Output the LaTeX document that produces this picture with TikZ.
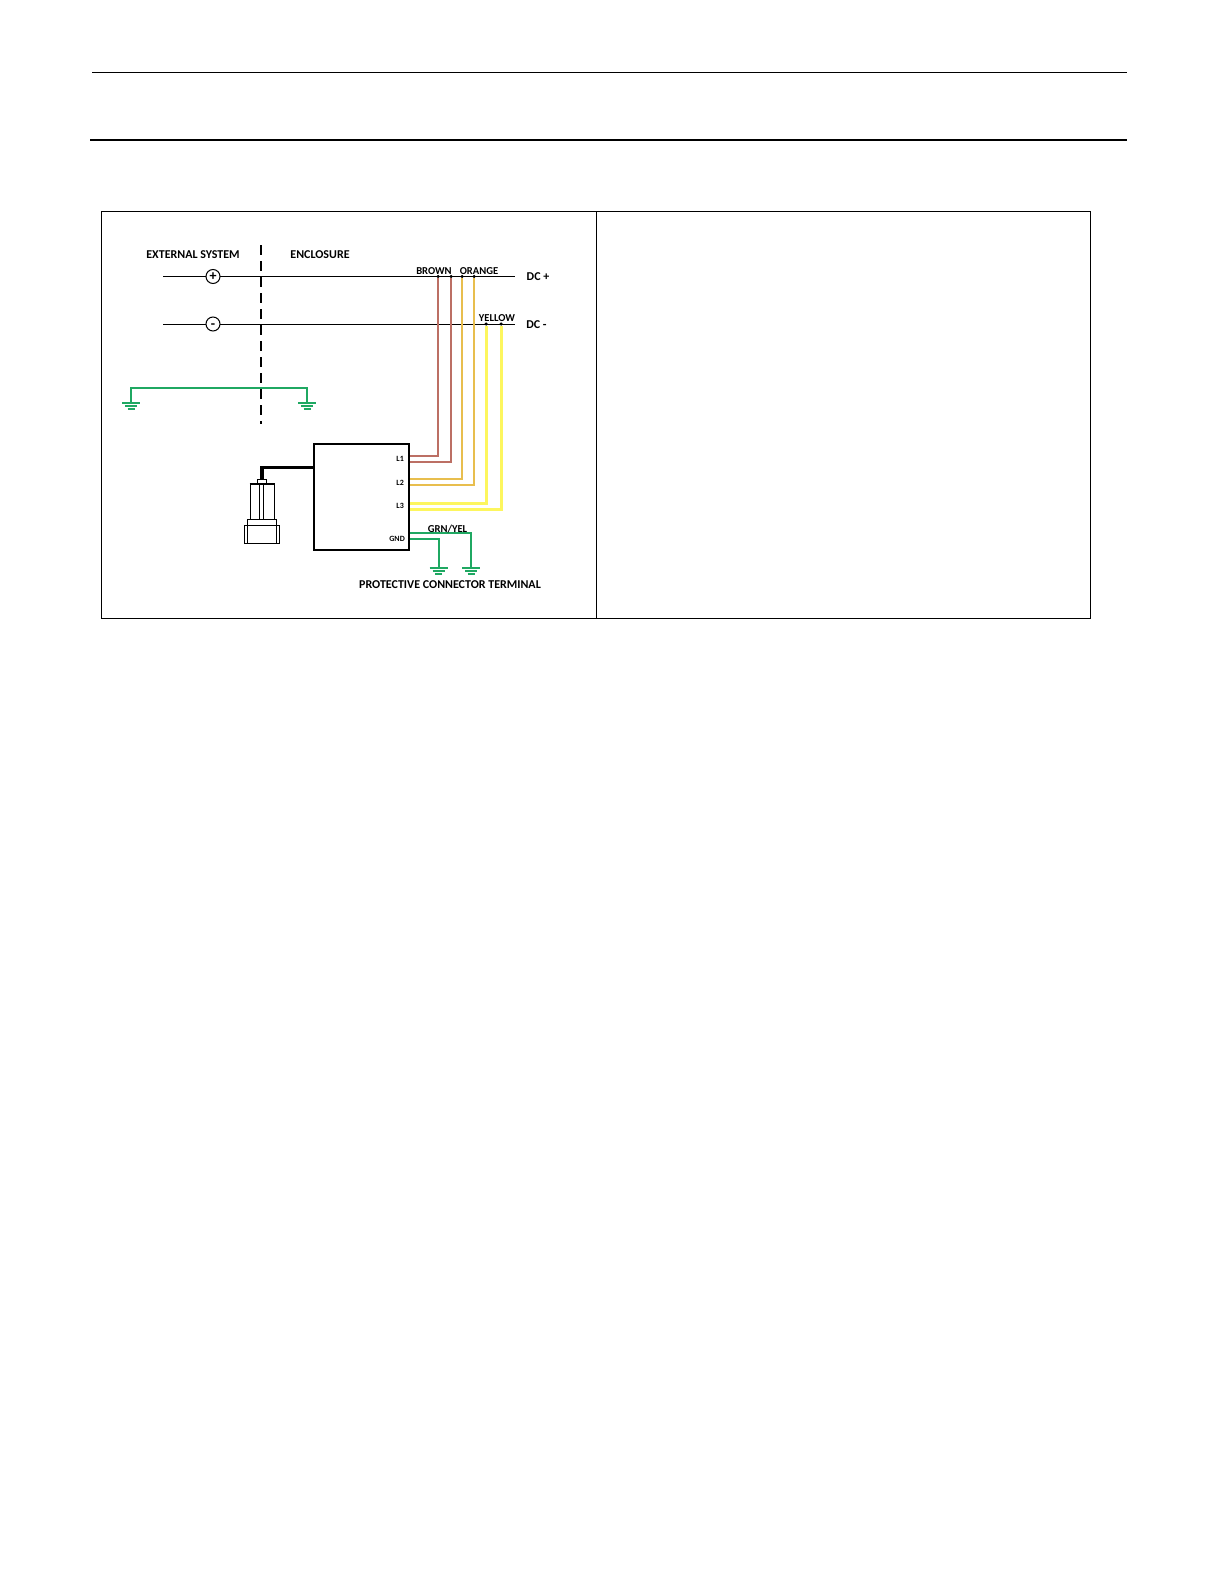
\documentclass[tikz,border=0pt]{standalone}
\usepackage{fontspec}
\setmainfont{Carlito}
\usepackage{tikz}
\usetikzlibrary{positioning,calc}
\definecolor{wirebrown}{HTML}{BC6F64}
\definecolor{wireorange}{HTML}{E8BE4E}
\definecolor{wireyellow}{HTML}{FDF65E}
\definecolor{wiregreen}{HTML}{1FA862}
\tikzset{
  cell/.style = {draw, line width = 1pt, anchor = north west, minimum width = 494.5pt, minimum height = 407pt, inner sep = 0},
  bus/.style = {line width = 1pt},
  lab/.style = {font = \bfseries\fontsize{12}{12}\selectfont, inner sep = 0},
  small/.style = {font = \bfseries\fontsize{10.6}{10.6}\selectfont, inner sep = 0},
  pin/.style = {font = \bfseries\fontsize{8}{8}\selectfont, inner sep = 0, anchor = east},
  dot/.style = {circle, fill = black, inner sep = 0, minimum size = 3.5pt},
  term/.style = {circle, draw, fill = white, line width = 1pt, inner sep = 0, minimum size = 14pt, font = \bfseries\fontsize{14}{14}\selectfont},
  wire/.style = {line width = 2pt},
  earth/.style = {line width = 1.6pt, wiregreen},
  part/.style = {draw, line width = .8pt, anchor = north west, inner sep = 0}
}
\begin{document}
\begin{tikzpicture}[x = 1pt, y = -1pt]
    \useasboundingbox (0,0) rectangle (1224,1584);
    % page rules
    \coordinate (rulea) at (92,72.5);
    \coordinate (ruleb) at (1127,72.5);
    \coordinate (rulec) at (90,140);
    \coordinate (ruled) at (1127,140);
    \draw[line width = 1pt] (rulea) -- (ruleb);
    \draw[line width = 2pt] (rulec) -- (ruled);
    % table
    \node[cell] (left) at (101,210.5) {};
    \node[cell] (right) at (595.5,210.5) {};
    % supply lines
    \coordinate (plusa) at (163,276.5);
    \coordinate (plusb) at (515,276.5);
    \coordinate (minusa) at (163,324);
    \coordinate (minusb) at (515,324);
    \draw[bus] (plusa) -- (plusb);
    \draw[bus] (minusa) -- (minusb);
    \node[term] (plus) at (213,276.5) {+};
    \node[term, text height = 8pt, text depth = 0pt] (minus) at (213,324) {-};
    \coordinate (bordera) at (261,245);
    \coordinate (borderb) at (261,424);
    % green earth link
    \coordinate (gndl) at (131,403);
    \coordinate (gndr) at (307,403);
    \coordinate (gndm) at (219,388);
    \draw[wiregreen, line width = 2pt] (gndl) |- (gndm) -| (gndr);
    \draw[bus, line width = 1.5pt, dash pattern = on 10pt off 6pt] (bordera) -- (borderb);
    % drive box
    \node[draw, line width = 2pt, minimum width = 95pt, minimum height = 106pt, inner sep = 0] (box) at (361.5,497) {};
    \node[pin] (la) at (404,459) {L1};
    \node[pin] (lb) at (404,483) {L2};
    \node[pin] (lc) at (404,506) {L3};
    \node[pin] (lg) at (405,538.5) {GND};
    % wire tops
    \node[dot] (ba) at (438,276.5) {};
    \node[dot] (bb) at (451,276.5) {};
    \node[dot] (oa) at (462,276.5) {};
    \node[dot] (ob) at (474,276.5) {};
    \node[dot] (ya) at (486,324) {};
    \node[dot] (yb) at (501,324) {};
    \draw[wire, wirebrown] (box.east |- 0,456) -| (ba);
    \draw[wire, wirebrown] (box.east |- 0,462) -| (bb);
    \draw[wire, wireorange] (box.east |- 0,479) -| (oa);
    \draw[wire, wireorange] (box.east |- 0,485) -| (ob);
    \draw[wire, wireyellow, line width = 3pt] (box.east |- 0,503) -| (ya);
    \draw[wire, wireyellow, line width = 3pt] (box.east |- 0,509) -| (yb);
    % earth on the drive
    \coordinate (gnda) at (438.5,568);
    \coordinate (gndb) at (471,568);
    \draw[wiregreen, line width = 2pt] (box.east |- 0,539) -| (gnda);
    \draw[wiregreen, line width = 2pt] (box.east |- 0,533) -| (gndb);
    \foreach \g in {gndl, gndr, gnda, gndb} {
      \draw[earth] ($(\g)+(-9,0)$) -- ($(\g)+(9,0)$);
      \draw[earth, line width = 1.2pt] ($(\g)+(-6,3)$) -- ($(\g)+(6,3)$);
      \draw[earth, line width = 1.2pt] ($(\g)+(-3.5,6)$) -- ($(\g)+(3.5,6)$);
    }
    % motor
    \node[part, minimum width = 35.5pt, minimum height = 18pt] (base) at (243.5,525) {};
    \node[part, minimum width = 29.5pt, minimum height = 24pt] (collar) at (246.5,519) {};
    \node[part, minimum width = 24.5pt, minimum height = 35pt] (body) at (249.5,484) {};
    \node[part, minimum width = 4pt, minimum height = 35pt] (shaft) at (259,484) {};
    \node[part, minimum width = 9pt, minimum height = 3.5pt] (cap) at (257,479) {};
    \draw[line width = 1.8pt] (body.north west) -- (body.north east);
    \draw[line width = 3.5pt] (box.west |- 0,467.5) -| (cap.north);
    % labels
    \node[lab] (extlab) at (193,255) {EXTERNAL SYSTEM};
    \node[lab] (enclab) at (320,255) {ENCLOSURE};
    \node[small] (brlab) at (434,271) {BROWN};
    \node[small] (orlab) at (479,271) {ORANGE};
    \node[small] (yelab) at (497,318.5) {YELLOW};
    \node[lab] (dcplus) at (538,276.5) {DC +};
    \node[lab] (dcminus) at (536.5,324.5) {DC -};
    \node[small] (grnlab) at (447.5,529) {GRN/YEL};
    \node[lab] (protlab) at (450,585) {PROTECTIVE CONNECTOR TERMINAL};
  \end{tikzpicture}
\end{document}
